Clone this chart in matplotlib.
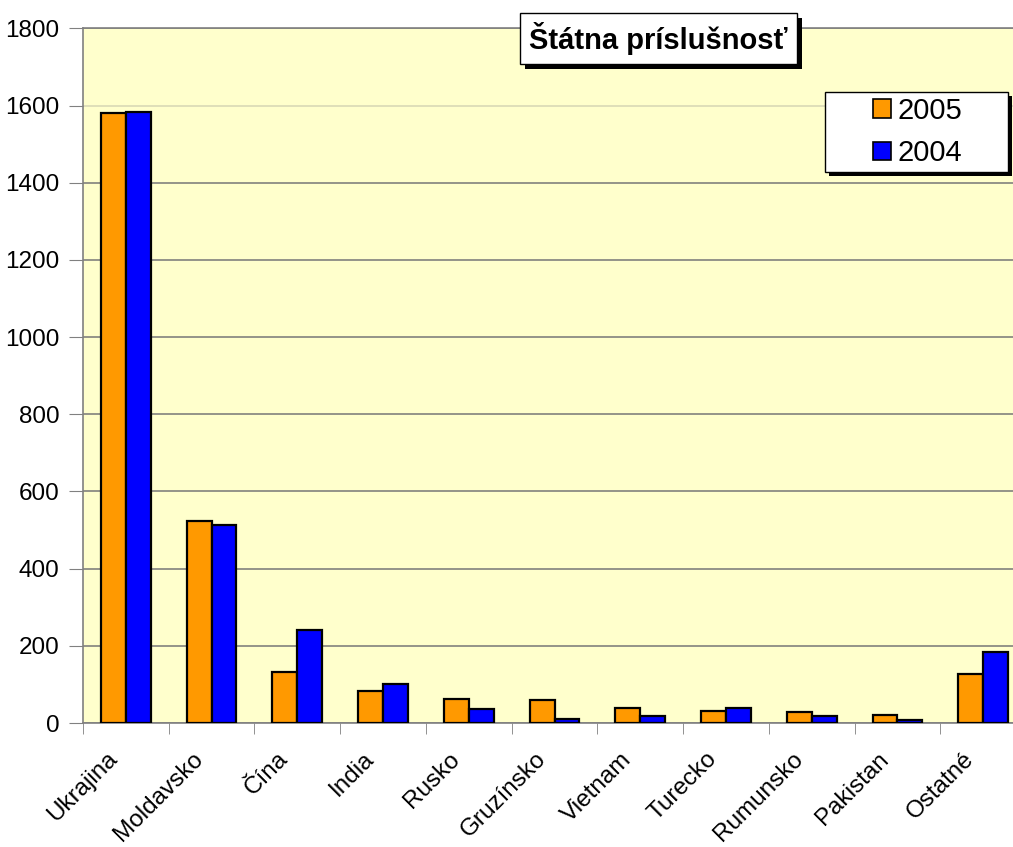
import numpy as np
import matplotlib
matplotlib.use("Agg")
import matplotlib.pyplot as plt
from matplotlib.patches import Rectangle
from matplotlib.transforms import ScaledTranslation

plt.rcParams['font.family'] = ['Liberation Sans', 'DejaVu Sans']

# data
krajiny = ['Ukrajina', 'Moldavsko', 'Čína', 'India', 'Rusko', 'Gruzínsko',
           'Vietnam', 'Turecko', 'Rumunsko', 'Pakistan', 'Ostatné']
rok_2005 = [1580, 523, 133, 84, 63, 60, 38, 31, 28, 21, 127]
rok_2004 = [1584, 513, 242, 101, 35, 10, 17, 40, 19, 7, 185]
nazov = 'Štátna príslušnosť'

W, H = 1013, 847
fig = plt.figure(figsize=(W / 100, H / 100), dpi=100)
# plot area in pixels: x 83..1026 (runs past the right edge), y 28.5..723
ax = fig.add_axes([83 / W, (H - 723) / H, 943 / W, (723 - 28.5) / H])
ax.set_facecolor('#FFFFCC')

x = np.arange(len(krajiny))
bw = 0.29
ax.bar(x - bw / 2, rok_2005, bw, color='#FF9900', edgecolor='black',
       linewidth=1.6, label='2005', zorder=3)
ax.bar(x + bw / 2, rok_2004, bw, color='#0000FF', edgecolor='black',
       linewidth=1.6, label='2004', zorder=3)

ax.set_xlim(-0.5, len(krajiny) - 0.5)
ax.set_ylim(0, 1800)
ax.set_yticks(np.arange(0, 1801, 200))
ax.yaxis.grid(True, color='#777777', linewidth=1.1, zorder=0)
# the 1600 line is drawn much lighter in the original
ax.get_ygridlines()[8].set_color('#D6D6B4')
ax.tick_params(axis='y', length=10, color='#808080', labelsize=17.5, pad=7)

ax.set_xticks(x)
ax.set_xticklabels(krajiny, rotation=45, ha='right', rotation_mode='anchor')
ax.set_xticks(np.arange(-0.5, len(krajiny)), minor=True)
ax.tick_params(axis='x', which='major', length=0, labelsize=17.5, pad=18)
ax.tick_params(axis='x', which='minor', length=8, color='#808080')
shift = ScaledTranslation(-0.2, 0, fig.dpi_scale_trans)
for lab in ax.get_xticklabels():
    lab.set_transform(lab.get_transform() + shift)

for s in ['left', 'bottom', 'top']:
    ax.spines[s].set_color('#808080')
    ax.spines[s].set_linewidth(1.2)
ax.spines['right'].set_visible(False)


def box_with_shadow(x0, y0, x1, y1, off, z):
    # pixel box (top-left origin) drawn in figure coords, black shadow below
    sh = Rectangle(((x0 + off) / W, (H - y1 - off) / H), (x1 - x0) / W,
                   (y1 - y0) / H, transform=fig.transFigure,
                   facecolor='black', edgecolor='none', zorder=z,
                   clip_on=False)
    bx = Rectangle((x0 / W, (H - y1) / H), (x1 - x0) / W, (y1 - y0) / H,
                   transform=fig.transFigure, facecolor='white',
                   edgecolor='black', linewidth=1, zorder=z + 0.5,
                   clip_on=False)
    ax.add_patch(sh)
    ax.add_patch(bx)


# title box
tx0, ty0, tx1, ty1 = 520, 13, 797, 64
box_with_shadow(tx0, ty0, tx1, ty1, 5, 20)
ax.text((tx0 + tx1) / 2 / W, (H - (ty0 + ty1) / 2) / H, nazov,
        transform=fig.transFigure, ha='center', va='center',
        fontsize=21, fontweight='bold', zorder=22)

# legend box
lx0, ly0, lx1, ly1 = 825, 92, 1008, 172
box_with_shadow(lx0, ly0, lx1, ly1, 4, 20)
leg = ax.legend(loc='center',
                bbox_to_anchor=((lx0 + lx1) / 2 / W + 1 / W,
                                (H - (ly0 + ly1) / 2) / H),
                bbox_transform=fig.transFigure, fontsize=21, frameon=False,
                handlelength=0.62, handleheight=0.62, handletextpad=0.2,
                borderpad=0, labelspacing=0.5, borderaxespad=0)
leg.set_zorder(30)
for h in leg.legend_handles:
    h.set_linewidth(1.2)

fig.savefig('out.png', dpi=100)
